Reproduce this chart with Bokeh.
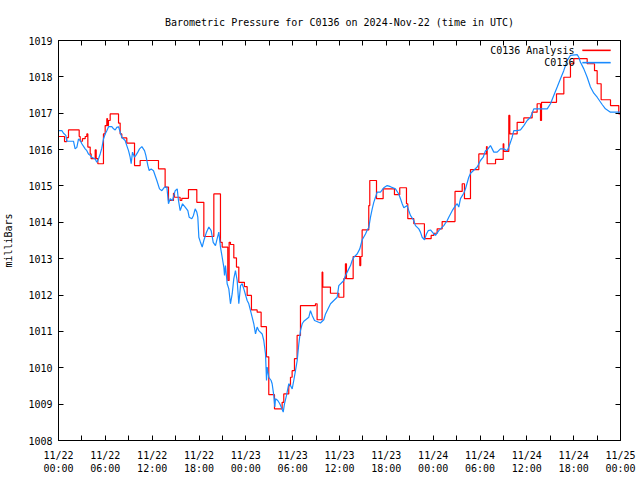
from bokeh.plotting import figure
from bokeh.models import FixedTicker, LinearAxis, Range1d, Label, BoxAnnotation
from bokeh.embed import file_html
from bokeh.resources import INLINE

# ---------------- data ----------------
title_text = "Barometric Pressure for C0136 on 2024-Nov-22 (time in UTC)"
y_label = "milliBars"
series_names = ["C0136 Analysis", "C0136"]

tick_hours = [0, 6, 12, 18, 24, 30, 36, 42, 48, 54, 60, 66, 72]
tick_labels = ["11/22\n00:00", "11/22\n06:00", "11/22\n12:00", "11/22\n18:00",
               "11/23\n00:00", "11/23\n06:00", "11/23\n12:00", "11/23\n18:00",
               "11/24\n00:00", "11/24\n06:00", "11/24\n12:00", "11/24\n18:00",
               "11/25\n00:00"]
minor_hours = [3, 9, 15, 21, 27, 33, 39, 45, 51, 57, 63, 69]
y_ticks = [1008, 1009, 1010, 1011, 1012, 1013, 1014, 1015, 1016, 1017, 1018, 1019]

# hours since 11/22 00:00 UTC, stepped analysis values (mb)
analysis_hours = [0.00, 0.77, 1.05, 1.28, 2.65, 2.78, 3.07, 3.42, 3.63, 3.76, 4.06, 4.18,
                  4.70, 4.83, 5.04, 5.76, 5.98, 6.19, 6.28, 6.40, 6.62, 7.69, 7.90, 8.11,
                  8.75, 9.74, 10.46, 12.81, 13.66, 14.09, 14.73, 14.86, 15.58, 15.80, 16.65,
                  17.72, 18.62, 19.90, 20.75, 20.97, 21.69, 21.86, 22.03, 22.46, 22.80, 23.10,
                  23.82, 24.17, 24.72, 25.45, 25.96, 26.64, 26.94, 27.67, 28.65, 28.86, 29.50,
                  29.72, 29.93, 30.23, 30.57, 31.00, 32.92, 33.13, 33.77, 33.86, 34.84, 35.91,
                  36.55, 36.76, 36.89, 37.75, 38.60, 38.72, 38.90, 39.75, 39.88, 40.74, 41.59,
                  43.04, 43.72, 44.58, 44.75, 45.52, 46.88, 47.74, 48.08, 48.51, 49.15, 50.80,
                  51.72, 52.01, 52.78, 53.85, 54.83, 54.92, 55.99, 56.97, 57.05, 57.69, 57.82,
                  58.76, 59.61, 60.68, 61.32, 61.75, 61.88, 63.80, 64.74, 65.59, 66.02, 67.73,
                  68.67, 69.01, 69.52, 70.72, 71.78, 72.00]
analysis_mb = [1016.36, 1016.22, 1016.33, 1016.54, 1016.36, 1016.23, 1016.30, 1016.36, 1016.43,
               1016.07, 1015.88, 1015.75, 1015.99, 1015.75, 1015.61, 1016.43, 1016.66, 1016.85,
               1016.66, 1016.80, 1016.98, 1016.73, 1016.43, 1016.32, 1016.18, 1015.56, 1015.70,
               1015.47, 1014.97, 1014.60, 1014.80, 1014.69, 1014.60, 1014.66, 1014.90, 1014.55,
               1013.61, 1014.78, 1013.45, 1013.32, 1012.40, 1013.45, 1013.39, 1013.02, 1012.77,
               1012.35, 1012.23, 1011.99, 1011.59, 1011.53, 1011.13, 1010.30, 1009.26, 1008.87,
               1009.05, 1009.28, 1009.51, 1009.74, 1009.92, 1010.25, 1010.89, 1011.71, 1011.76,
               1011.32, 1012.63, 1012.22, 1012.05, 1011.94, 1012.45, 1012.86, 1012.45, 1013.06,
               1012.81, 1013.06, 1013.79, 1014.46, 1015.15, 1014.65, 1014.92, 1014.76, 1014.95,
               1014.51, 1014.10, 1013.96, 1013.55, 1013.64, 1013.70, 1013.82, 1014.02, 1014.85,
               1015.06, 1014.65, 1015.45, 1015.88, 1016.08, 1015.61, 1015.73, 1016.16, 1015.95,
               1016.94, 1016.43, 1016.75, 1016.87, 1017.03, 1017.26, 1016.80, 1017.30, 1017.53,
               1017.99, 1018.36, 1018.50, 1018.36, 1018.17, 1017.81, 1017.37, 1017.21, 1016.98,
               1016.87]

# hours since 11/22 00:00 UTC, station observations (mb)
obs_hours = [0.00, 0.43, 0.64, 0.94, 1.07, 1.92, 2.13, 2.35, 2.56, 2.77, 2.99, 3.42, 3.63, 3.84,
             4.06, 4.27, 4.70, 4.91, 5.12, 5.34, 5.55, 5.76, 5.98, 6.19, 6.41, 6.83, 7.05, 7.26,
             7.47, 7.69, 7.90, 8.11, 8.54, 8.75, 8.97, 9.18, 9.31, 9.48, 9.74, 9.91, 10.16, 10.38,
             10.68, 11.02, 11.19, 11.45, 11.62, 11.87, 12.17, 12.60, 12.94, 13.24, 13.58, 13.88,
             14.09, 14.31, 14.60, 14.95, 15.21, 15.37, 15.59, 15.89, 16.23, 16.57, 16.74, 17.08,
             17.29, 17.51, 17.72, 17.85, 17.98, 18.19, 18.41, 18.62, 18.96, 19.26, 19.56, 19.82,
             20.11, 20.33, 20.54, 20.75, 20.97, 21.18, 21.27, 21.39, 21.61, 21.82, 22.03, 22.25,
             22.46, 22.67, 22.89, 23.10, 23.32, 23.53, 23.74, 24.17, 24.38, 24.60, 24.81, 25.02,
             25.24, 25.45, 25.66, 26.09, 26.30, 26.52, 26.65, 26.73, 26.94, 27.24, 27.37, 27.58,
             27.71, 27.80, 28.09, 28.35, 28.53, 28.79, 28.95, 29.21, 29.50, 29.72, 29.94, 30.14,
             30.36, 30.58, 30.79, 31.00, 31.22, 31.43, 32.07, 32.28, 32.50, 32.80, 33.56, 33.99,
             34.21, 34.85, 35.27, 35.70, 35.91, 36.55, 36.77, 37.19, 37.41, 37.62, 37.83, 38.26,
             38.60, 38.91, 39.33, 39.55, 39.75, 39.97, 40.19, 40.39, 40.61, 40.83, 41.25, 41.67,
             42.11, 42.53, 43.17, 43.59, 43.81, 44.03, 44.24, 44.67, 44.88, 45.09, 45.52, 45.73,
             46.16, 46.37, 46.59, 46.89, 47.14, 47.36, 47.66, 48.08, 48.30, 48.72, 49.36, 49.80,
             50.00, 50.44, 50.86, 51.08, 51.28, 51.50, 51.92, 52.14, 52.56, 52.79, 53.64, 54.06,
             54.41, 54.70, 54.92, 55.34, 55.56, 55.77, 56.20, 56.62, 57.05, 57.48, 57.69, 57.90,
             58.12, 58.33, 58.76, 59.19, 59.61, 60.04, 60.47, 60.89, 62.61, 63.03, 63.45, 63.89,
             64.31, 64.73, 65.17, 65.59, 66.45, 66.66, 66.87, 67.30, 67.73, 68.15, 68.58, 69.01,
             69.65, 70.07, 70.71, 72.00]
obs_mb = [1016.52, 1016.52, 1016.45, 1016.39, 1016.23, 1016.23, 1016.02, 1016.06, 1016.29, 1016.26,
          1016.16, 1016.02, 1015.97, 1015.88, 1015.84, 1015.79, 1015.74, 1015.65, 1015.74, 1015.88,
          1016.04, 1016.29, 1016.43, 1016.52, 1016.63, 1016.63, 1016.57, 1016.54, 1016.61, 1016.63,
          1016.48, 1016.34, 1016.25, 1016.11, 1015.97, 1015.79, 1015.61, 1015.93, 1015.79, 1015.84,
          1015.93, 1016.02, 1016.08, 1015.97, 1015.84, 1015.56, 1015.42, 1015.47, 1015.42, 1015.15,
          1014.92, 1014.87, 1014.97, 1014.97, 1014.51, 1014.65, 1014.60, 1014.87, 1014.92, 1014.60,
          1014.32, 1014.51, 1014.42, 1014.32, 1014.14, 1014.10, 1014.19, 1014.37, 1014.28, 1014.14,
          1013.59, 1013.45, 1013.32, 1013.50, 1013.73, 1013.87, 1013.77, 1013.45, 1013.36, 1013.55,
          1013.73, 1013.32, 1013.04, 1012.77, 1012.54, 1012.81, 1012.31, 1012.17, 1011.76, 1012.03,
          1012.45, 1012.67, 1012.40, 1011.76, 1012.26, 1012.31, 1012.17, 1011.85, 1011.76, 1011.57,
          1011.39, 1011.21, 1010.93, 1011.12, 1011.02, 1010.93, 1010.75, 1010.38, 1009.65, 1010.02,
          1009.74, 1009.65, 1009.56, 1009.24, 1008.92, 1009.15, 1009.10, 1009.01, 1008.92, 1008.78,
          1009.01, 1009.24, 1009.56, 1009.51, 1009.42, 1009.65, 1009.92, 1010.20, 1010.66, 1011.02,
          1011.21, 1011.28, 1011.39, 1011.57, 1011.44, 1011.30, 1011.23, 1011.32, 1011.48, 1011.76,
          1011.85, 1011.94, 1012.26, 1012.40, 1012.54, 1012.72, 1012.81, 1012.95, 1013.04, 1013.13,
          1013.27, 1013.52, 1013.68, 1013.79, 1013.85, 1014.14, 1014.37, 1014.55, 1014.69, 1014.83,
          1014.83, 1014.95, 1015.01, 1014.98, 1014.92, 1014.78, 1014.65, 1014.51, 1014.40, 1014.46,
          1014.32, 1014.19, 1014.05, 1013.91, 1013.82, 1013.73, 1013.59, 1013.52, 1013.68, 1013.77,
          1013.79, 1013.68, 1013.64, 1013.77, 1013.91, 1014.05, 1014.14, 1014.32, 1014.46, 1014.51,
          1014.42, 1014.65, 1014.80, 1014.92, 1015.24, 1015.35, 1015.52, 1015.70, 1015.79, 1015.97,
          1015.99, 1016.11, 1016.02, 1015.93, 1015.93, 1016.02, 1016.02, 1015.97, 1016.07, 1016.20,
          1016.34, 1016.52, 1016.52, 1016.54, 1016.66, 1016.80, 1016.89, 1017.12, 1017.12, 1017.26,
          1017.49, 1017.72, 1017.95, 1018.17, 1018.45, 1018.59, 1018.61, 1018.54, 1018.40, 1018.22,
          1017.99, 1017.72, 1017.55, 1017.44, 1017.24, 1017.12, 1017.03, 1017.03]

# ---------------- styling ----------------
FONT = "DejaVu Sans Mono"
FS = "10px"
RED = "#ff0000"
BLUE = "#1a8cff"

p = figure(frame_width=562, frame_height=400, output_backend="svg", toolbar_location=None,
           x_range=Range1d(0, 72), y_range=Range1d(1008, 1019),
           min_border_left=58, min_border_right=20, min_border_top=40, min_border_bottom=38)
p.background_fill_color = "white"
p.border_fill_color = "white"
p.outline_line_color = "black"
p.grid.visible = False

p.title.text = title_text
p.title.align = "center"
p.title.vertical_align = "top"
p.title.text_font = FONT
p.title.text_font_size = FS
p.title.text_font_style = "normal"
p.title.text_color = "black"
p.title.standoff = 22

def style_axis(ax, labels=True):
    ax.axis_line_color = "black"
    ax.major_tick_in = 5
    ax.major_tick_out = 0
    ax.minor_tick_in = 5
    ax.minor_tick_out = 0
    ax.major_tick_line_color = "black"
    ax.minor_tick_line_color = "black"
    ax.major_label_text_font = FONT
    ax.major_label_text_font_size = FS
    ax.major_label_text_color = "black" if labels else None
    ax.axis_label_text_font = FONT
    ax.axis_label_text_font_size = FS
    ax.axis_label_text_font_style = "normal"
    ax.axis_label_text_color = "black"

xa = p.xaxis[0]
xa.ticker = FixedTicker(ticks=tick_hours, minor_ticks=minor_hours)
xa.major_label_overrides = {h: lab for h, lab in zip(tick_hours, tick_labels)}
style_axis(xa)
xa.major_label_standoff = 9

ya = p.yaxis[0]
ya.ticker = FixedTicker(ticks=y_ticks, minor_ticks=[])
style_axis(ya)
ya.major_label_standoff = 6
ya.axis_label = y_label
ya.axis_label_standoff = 11

top = LinearAxis(ticker=FixedTicker(ticks=tick_hours, minor_ticks=minor_hours))
style_axis(top, labels=False)
top.major_label_standoff = 0
p.add_layout(top, "above")

right = LinearAxis(ticker=FixedTicker(ticks=y_ticks, minor_ticks=[]))
style_axis(right, labels=False)
right.major_label_standoff = 0
p.add_layout(right, "right")

p.step(analysis_hours, analysis_mb, mode="after", line_color=RED, line_width=1.2)
p.line(obs_hours, obs_mb, line_color=BLUE, line_width=1.2)

# gnuplot-style key: text then sample line
key_text_x = 66.10
key_line_x0, key_line_x1 = 67.13, 70.72
key_rows = [1018.73, 1018.39]
key_half = 0.018
for name, color, yk in zip(series_names, [RED, BLUE], key_rows):
    p.add_layout(Label(x=key_text_x, y=yk, text=name, text_align="right",
                       text_baseline="middle", text_font=FONT, text_font_size=FS,
                       text_color="black"))
    p.add_layout(BoxAnnotation(left=key_line_x0, right=key_line_x1,
                               bottom=yk - key_half, top=yk + key_half,
                               fill_color=color, fill_alpha=1, line_color=color,
                               line_width=1, editable=False))

open("out.html", "w").write(file_html(p, INLINE))
